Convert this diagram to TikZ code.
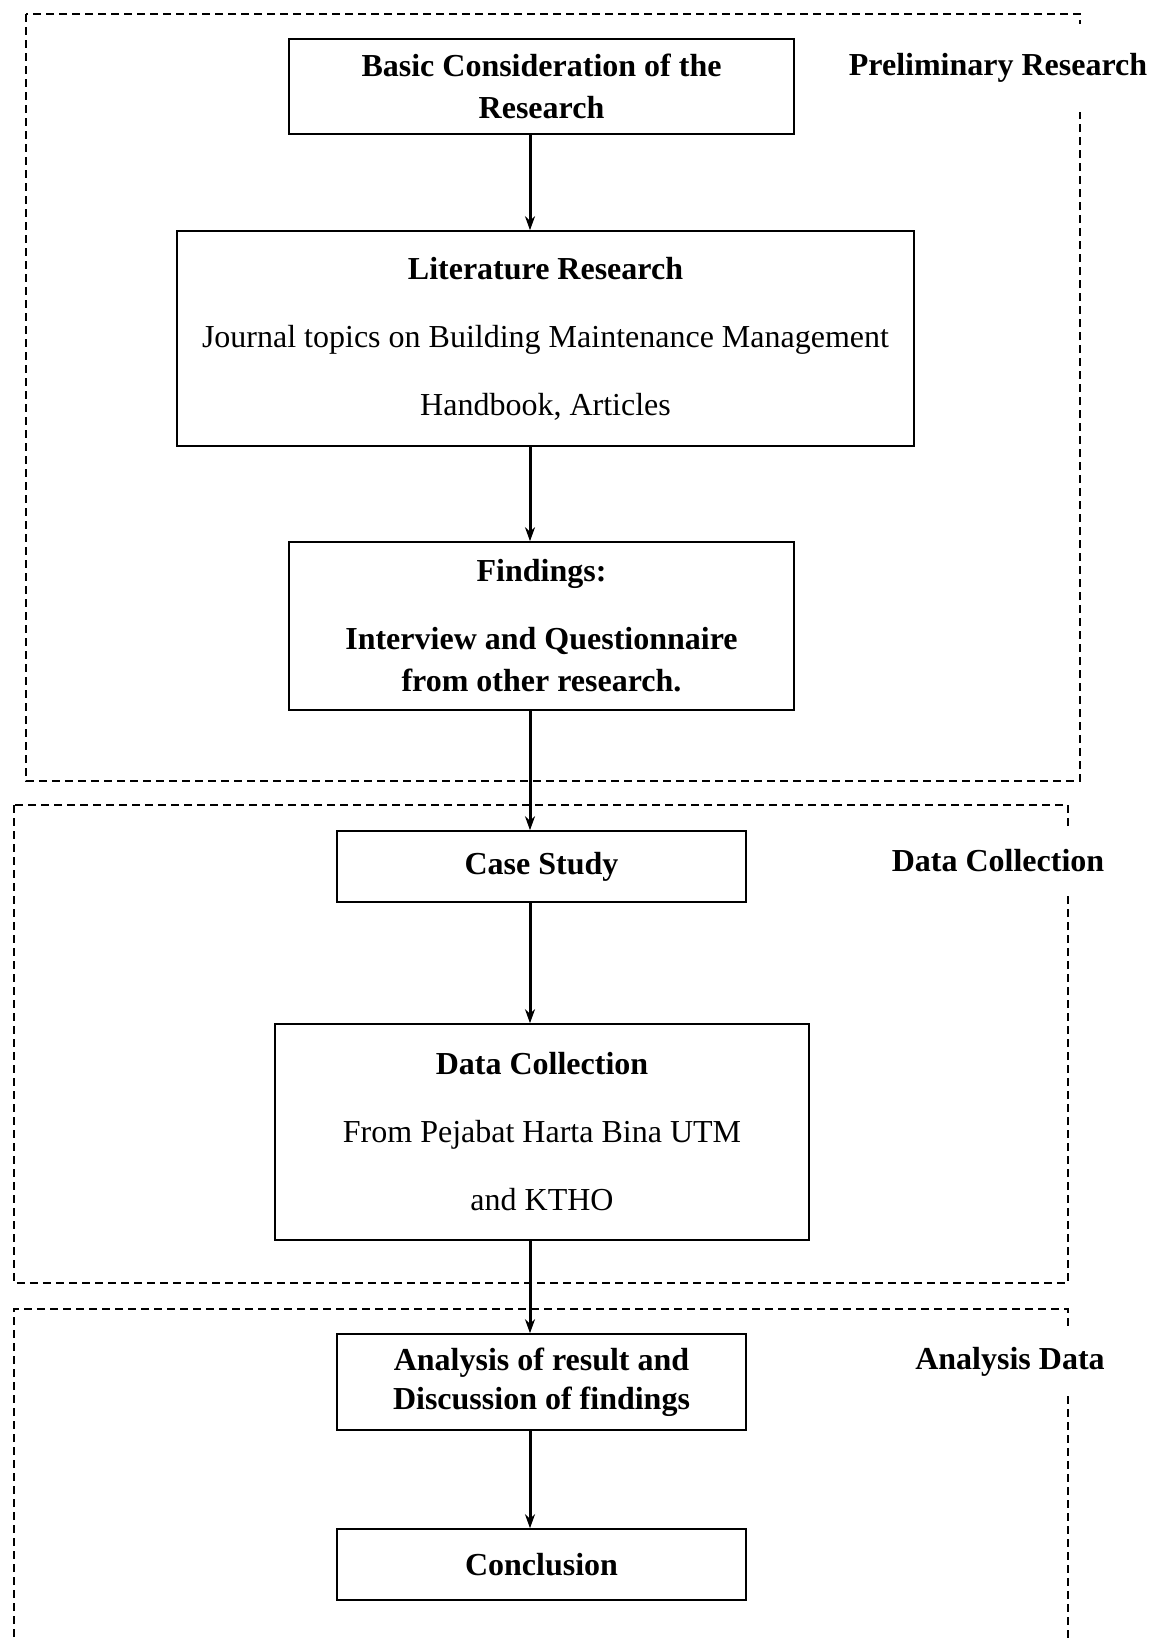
\documentclass[tikz,border=0pt]{standalone}
\usepackage{fontspec}
\setmainfont{Liberation Serif}
\usepackage{tikz}
\usetikzlibrary{arrows.meta}

\tikzset{
  stagebox/.style={draw, line width=0.8pt, align=center, inner sep=0pt},
  groupframe/.style={dash pattern=on 4pt off 2.5pt, line width=0.6pt},
  grouplabel/.style={fill=white, font=\fontsize{16pt}{21pt}\selectfont\bfseries, inner xsep=1pt, minimum height=32pt},
  flow/.style={-{Stealth[length=7pt,width=5pt]}, line width=1.5pt}
}

\begin{document}
\begin{tikzpicture}[x=0.5pt, y=-0.5pt, font=\fontsize{16pt}{21pt}\selectfont]
    \fill[white] (0,0) rectangle (1166,1638);
    \useasboundingbox (0,0) rectangle (1166,1638);

    % stage frames
    \draw[groupframe] (26,14) rectangle (1080,781);
    \draw[groupframe] (14,805) rectangle (1068,1283);
    \draw[groupframe] (14,1650) -- (14,1309) -- (1068,1309) -- (1068,1650);
    \node[grouplabel, minimum height=44pt] (prelim) at (998,68) {Preliminary Research};
    \node[grouplabel] (collect) at (998,861) {Data Collection};
    \node[grouplabel] (analysis) at (1010,1362) {Analysis Data};

    % boxes
    \node[stagebox, minimum width=252.5pt, minimum height=47.5pt] (basic) at (541.5,86.5)
        {\textbf{Basic Consideration of the}\\\textbf{Research}};
    \node[stagebox, minimum width=368.5pt, minimum height=107.5pt] (lit) at (545.5,338.5)
        {\textbf{Literature Research}\\[13pt]
         Journal topics on Building Maintenance Management\\[13pt]
         Handbook, Articles};
    \node[stagebox, minimum width=252.5pt, minimum height=84pt] (find) at (541.5,626)
        {\textbf{Findings:}\\[13pt]
         \textbf{Interview and Questionnaire}\\\textbf{from other research.}};
    \node[stagebox, minimum width=204.5pt, minimum height=35.5pt] (case) at (541.5,866.5)
        {\textbf{Case Study}};
    \node[stagebox, minimum width=267pt, minimum height=108pt] (dcoll) at (542,1132)
        {\textbf{Data Collection}\\[13pt]
         From Pejabat Harta Bina UTM\\[13pt]
         and KTHO};
    \node[stagebox, minimum width=204.5pt, minimum height=48pt] (result) at (541.5,1382)
        {\textbf{Analysis of result and}\\[-1.5pt]\textbf{Discussion of findings}};
    \node[stagebox, minimum width=204.5pt, minimum height=35.5pt] (concl) at (541.5,1564.5)
        {\textbf{Conclusion}};

    % arrows
    \coordinate (ax) at (530,0);
    \draw[flow] (basic.south -| ax) -- (lit.north -| ax);
    \draw[flow] (lit.south -| ax) -- (find.north -| ax);
    \draw[flow] (find.south -| ax) -- (case.north -| ax);
    \draw[flow] (case.south -| ax) -- (dcoll.north -| ax);
    \draw[flow] (dcoll.south -| ax) -- (result.north -| ax);
    \draw[flow] (result.south -| ax) -- (concl.north -| ax);
\end{tikzpicture}
\end{document}
